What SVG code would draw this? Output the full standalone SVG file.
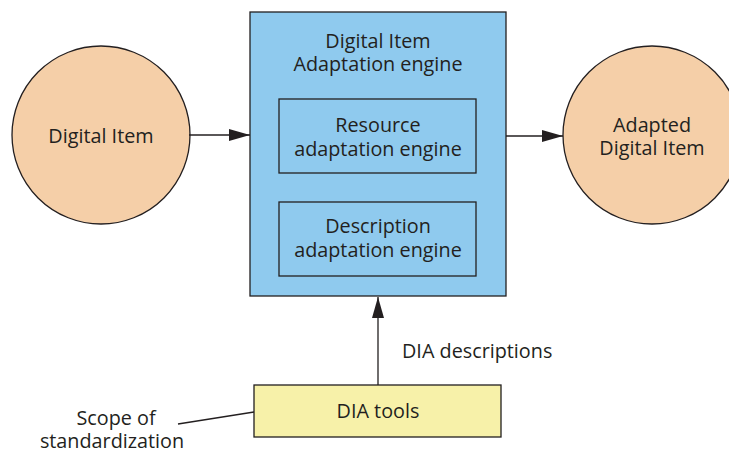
<svg xmlns="http://www.w3.org/2000/svg" width="729" height="453" viewBox="0 0 729 453">
<style>
text{font-family:"Open Sans","Noto Sans","Liberation Sans",sans-serif;font-size:19.8px;fill:#231f20;text-anchor:middle}
.circ{fill:#f5cfa8;stroke:#231f20;stroke-width:1.3}
.blue{fill:#8fcaee;stroke:#231f20;stroke-width:1.3}
.yel{fill:#f7f1a9;stroke:#231f20;stroke-width:1.3}
.conn{stroke:#231f20;stroke-width:1.3;fill:none}
</style>
<defs>
<marker id="ah" markerWidth="21" markerHeight="12" refX="21" refY="6" orient="auto" markerUnits="userSpaceOnUse">
<path d="M0,0 L21,6 L0,12 Z" fill="#231f20"/>
</marker>
</defs>
<rect width="729" height="453" fill="#fff"/>
<g id="digital-item">
<circle class="circ" cx="101" cy="135" r="89"/>
<text x="101" y="143">Digital Item</text>
</g>
<g id="dia-engine">
<rect class="blue" x="250" y="12" width="256" height="284"/>
<text x="378" y="48">Digital Item</text>
<text x="378" y="71">Adaptation engine</text>
</g>
<g id="resource-engine">
<rect class="blue" x="279" y="99" width="197" height="74"/>
<text x="378" y="132">Resource</text>
<text x="378" y="156">adaptation engine</text>
</g>
<g id="description-engine">
<rect class="blue" x="279" y="202" width="197" height="74"/>
<text x="378" y="233">Description</text>
<text x="378" y="257">adaptation engine</text>
</g>
<g id="adapted-item">
<circle class="circ" cx="652" cy="135" r="89"/>
<text x="652" y="132">Adapted</text>
<text x="652" y="155">Digital Item</text>
</g>
<g id="dia-tools">
<rect class="yel" x="254" y="385" width="247" height="52"/>
<text x="378" y="418">DIA tools</text>
</g>
<g id="scope-label">
<text x="116" y="425">Scope of</text>
<text x="112" y="448">standardization</text>
</g>
<g id="connectors">
<line class="conn" x1="189" y1="135" x2="250" y2="135" marker-end="url(#ah)"/>
<line class="conn" x1="506" y1="136" x2="563" y2="136" marker-end="url(#ah)"/>
<line class="conn" x1="378" y1="385" x2="378" y2="297" marker-end="url(#ah)"/>
<line class="conn" x1="178" y1="424" x2="254" y2="412"/>
<text x="402" y="358" style="text-anchor:start">DIA descriptions</text>
</g>
</svg>
